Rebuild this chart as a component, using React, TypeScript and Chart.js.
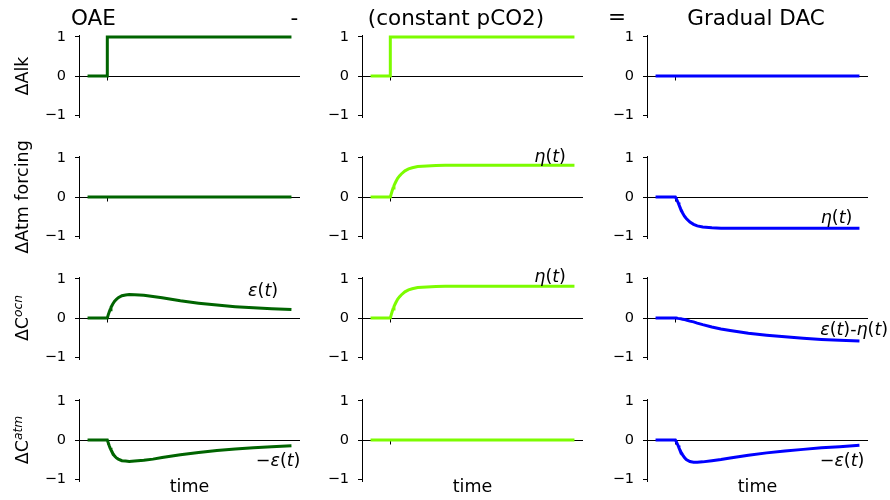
import React, { useEffect, useRef } from "react";
import { Chart, registerables } from "chart.js";

Chart.register(...registerables);

// ---------------- data ----------------
const timeGrid = [-10, 0, 0.5, 1, 1.5, 2, 3, 4, 5, 6, 8, 10, 12, 15, 20, 25, 30, 40, 50, 60, 70, 80, 90, 100];
const stepTime = [-10, 0, 0, 100];
const alkStep = [0, 0, 1, 1];
const flatTime = [-10, 100];
const flatZero = [0, 0];

const epsOcean = [0, 0, 0.08, 0.15, 0.21, 0.27, 0.36, 0.43, 0.48, 0.52, 0.57, 0.59, 0.6, 0.595, 0.58, 0.55, 0.52, 0.44, 0.38, 0.33, 0.29, 0.26, 0.24, 0.22];
const epsAtmos = [0, 0, -0.07, -0.14, -0.2, -0.25, -0.34, -0.41, -0.46, -0.49, -0.53, -0.54, -0.55, -0.54, -0.52, -0.49, -0.45, -0.38, -0.32, -0.27, -0.23, -0.2, -0.17, -0.15];
const etaForcing = [0, 0, 0.08, 0.16, 0.23, 0.29, 0.39, 0.48, 0.54, 0.59, 0.67, 0.72, 0.75, 0.78, 0.795, 0.805, 0.81, 0.81, 0.81, 0.81, 0.81, 0.81, 0.81, 0.81];
const dacForcing = [0, 0, -0.04, -0.09, -0.14, -0.2, -0.31, -0.41, -0.49, -0.55, -0.64, -0.7, -0.74, -0.77, -0.79, -0.8, -0.8, -0.8, -0.8, -0.8, -0.8, -0.8, -0.8, -0.8];
const dacOcean = [0, 0, 0, -0.005, -0.01, -0.01, -0.02, -0.03, -0.04, -0.05, -0.08, -0.1, -0.13, -0.17, -0.23, -0.28, -0.32, -0.39, -0.44, -0.48, -0.52, -0.55, -0.57, -0.59];
const dacAtmos = [0, 0, -0.04, -0.09, -0.14, -0.2, -0.3, -0.38, -0.45, -0.5, -0.55, -0.57, -0.57, -0.56, -0.53, -0.5, -0.46, -0.39, -0.33, -0.28, -0.24, -0.2, -0.17, -0.14];

const yTickValues = [-1, 0, 1];
const rowLabels = ["ΔAlk", "ΔAtm forcing", "ΔC|ocn", "ΔC|atm"];
const xAxisLabel = "time";

// ---------------- styling / layout ----------------
const GREEN = "#006400";
const LIME = "#7CFC00";
const BLUE = "#0000FF";
const FONT = '"DejaVu Sans", "Liberation Sans", sans-serif';

const COL_X0 = [79, 362, 647];
const ROW_TOP = [35, 156, 277, 399];
const AX_W = 221;
const AX_H = 82;
const YW = 50; // y-axis box width
const PT = 22;
const PB = 22;
const PR = 40;

type Panel = {
  t: number[];
  v: number[];
  color: string;
  note?: string;
  noteX?: number;
  noteY?: number;
};

const panels: Panel[][] = [
  [
    { t: stepTime, v: alkStep, color: GREEN },
    { t: stepTime, v: alkStep, color: LIME },
    { t: flatTime, v: flatZero, color: BLUE },
  ],
  [
    { t: flatTime, v: flatZero, color: GREEN },
    { t: timeGrid, v: etaForcing, color: LIME, note: "η(t)", noteX: 87.5, noteY: 1.0 },
    { t: timeGrid, v: dacForcing, color: BLUE, note: "η(t)", noteX: 88.3, noteY: -0.54 },
  ],
  [
    { t: timeGrid, v: epsOcean, color: GREEN, note: "ε(t)", noteX: 85.3, noteY: 0.69 },
    { t: timeGrid, v: etaForcing, color: LIME, note: "η(t)", noteX: 87.5, noteY: 1.04 },
    { t: timeGrid, v: dacOcean, color: BLUE, note: "ε(t)-η(t)", noteX: 97.9, noteY: -0.31 },
  ],
  [
    { t: timeGrid, v: epsAtmos, color: GREEN, note: "−ε(t)", noteX: 93.5, noteY: -0.55 },
    { t: flatTime, v: flatZero, color: LIME },
    { t: timeGrid, v: dacAtmos, color: BLUE, note: "−ε(t)", noteX: 91.3, noteY: -0.56 },
  ],
];

function drawMath(ctx: CanvasRenderingContext2D, text: string, cx: number, cy: number, size: number) {
  const segs = Array.from(text).map((ch) => ({ ch, it: /[a-zεη]/i.test(ch) }));
  const fontFor = (it: boolean) => `${it ? "italic " : ""}${size}px ${FONT}`;
  let total = 0;
  const widths = segs.map((s) => {
    ctx.font = fontFor(s.it);
    const w = ctx.measureText(s.ch).width;
    total += w;
    return w;
  });
  let x = cx - total / 2;
  ctx.textBaseline = "middle";
  ctx.textAlign = "left";
  ctx.fillStyle = "#000";
  segs.forEach((s, i) => {
    ctx.font = fontFor(s.it);
    ctx.fillText(s.ch, x, cy);
    x += widths[i];
  });
}

const decorPlugin = {
  id: "decor",
  beforeDatasetsDraw(chart: any) {
    const { ctx, chartArea: a, scales } = chart;
    const y0 = Math.round(scales.y.getPixelForValue(0)) + 0.5;
    const x0 = Math.round(scales.x.getPixelForValue(0)) + 0.5;
    ctx.save();
    ctx.strokeStyle = "#000";
    ctx.lineWidth = 1;
    ctx.beginPath();
    ctx.moveTo(a.left, y0);
    ctx.lineTo(a.right, y0);
    ctx.moveTo(x0, y0);
    ctx.lineTo(x0, y0 + 4);
    ctx.stroke();
    ctx.restore();
  },
  afterDraw(chart: any, _args: any, opts: any) {
    if (!opts || !opts.note) return;
    const { ctx, scales } = chart;
    ctx.save();
    drawMath(ctx, opts.note, scales.x.getPixelForValue(opts.noteX), scales.y.getPixelForValue(opts.noteY), 17.5);
    ctx.restore();
  },
};

function fmtTick(v: number) {
  return v < 0 ? "−" + Math.abs(v) : String(v);
}

function SubPlot({ p, r, c }: { p: Panel; r: number; c: number }) {
  const ref = useRef<HTMLCanvasElement>(null);
  useEffect(() => {
    if (!ref.current) return;
    const pts = p.t.map((t, i) => ({ x: t, y: p.v[i] }));
    const chart = new Chart(ref.current, {
      type: "line",
      data: {
        datasets: [
          {
            data: pts,
            borderColor: p.color,
            borderWidth: 3,
            pointRadius: 0,
            tension: 0,
            fill: false,
            borderCapStyle: "square",
            borderJoinStyle: "miter",
          } as any,
        ],
      },
      options: {
        animation: false,
        responsive: false,
        maintainAspectRatio: false,
        events: [],
        layout: { padding: { left: 0, top: PT, right: PR, bottom: PB } },
        plugins: {
          legend: { display: false },
          tooltip: { enabled: false },
          title: { display: false },
          decor: { note: p.note, noteX: p.noteX, noteY: p.noteY },
        } as any,
        scales: {
          x: { type: "linear", min: -15.5, max: 105.5, display: false },
          y: {
            type: "linear",
            min: -1.05,
            max: 1.05,
            afterBuildTicks: (s: any) => {
              s.ticks = yTickValues.map((v) => ({ value: v }));
            },
            afterFit: (s: any) => {
              s.width = YW;
            },
            grid: { drawOnChartArea: false, drawTicks: true, tickLength: 4, color: "#000", lineWidth: 1 },
            border: { display: true, color: "#000", width: 1 },
            ticks: {
              color: "#000",
              font: { family: FONT, size: 14.5 },
              padding: 9,
              callback: (v: any) => fmtTick(Number(v)),
            },
          } as any,
        },
      },
      plugins: [decorPlugin],
    });
    return () => chart.destroy();
  }, [p]);
  const w = YW + AX_W + PR;
  const h = PT + AX_H + PB;
  return (
    <canvas
      ref={ref}
      width={w}
      height={h}
      style={{ position: "absolute", left: COL_X0[c] - YW, top: ROW_TOP[r] - PT, width: w, height: h }}
    />
  );
}

function CText({ x, y, size, children, rotate }: { x: number; y: number; size: number; children: any; rotate?: boolean }) {
  return (
    <div
      style={{
        position: "absolute",
        left: x,
        top: y,
        transform: `translate(-50%, -50%)${rotate ? " rotate(-90deg)" : ""}`,
        whiteSpace: "nowrap",
        fontFamily: FONT,
        fontSize: size,
        lineHeight: 1,
        color: "#000",
      }}
    >
      {children}
    </div>
  );
}

function RowLabel({ text }: { text: string }) {
  const [base, sup] = text.split("|");
  return (
    <span>
      {base}
      {sup ? <sup style={{ fontStyle: "italic", fontSize: "0.7em", verticalAlign: "0.55em", lineHeight: 0 }}>{sup}</sup> : null}
    </span>
  );
}

export default function App() {
  return (
    <div
      style={{
        position: "absolute",
        left: 0,
        top: 0,
        width: 890,
        height: 500,
        overflow: "hidden",
        background: "#fff",
      }}
    >
      {panels.map((row, r) => row.map((p, c) => <SubPlot key={`${r}-${c}`} p={p} r={r} c={c} />))}
      <CText x={93.5} y={18} size={21.5}>OAE</CText>
      <CText x={294.5} y={18} size={21.5}>-</CText>
      <CText x={456} y={18} size={21.5}>(constant pCO2)</CText>
      <CText x={617} y={17} size={21.5}>=</CText>
      <CText x={756} y={18} size={21.5}>Gradual DAC</CText>
      {rowLabels.map((l, r) => (
        <CText key={l} x={23} y={ROW_TOP[r] + AX_H / 2} size={17.5} rotate>
          <RowLabel text={l} />
        </CText>
      ))}
      {COL_X0.map((x0, c) => (
        <CText key={c} x={x0 + AX_W / 2} y={487} size={17.5}>
          {xAxisLabel}
        </CText>
      ))}
    </div>
  );
}
